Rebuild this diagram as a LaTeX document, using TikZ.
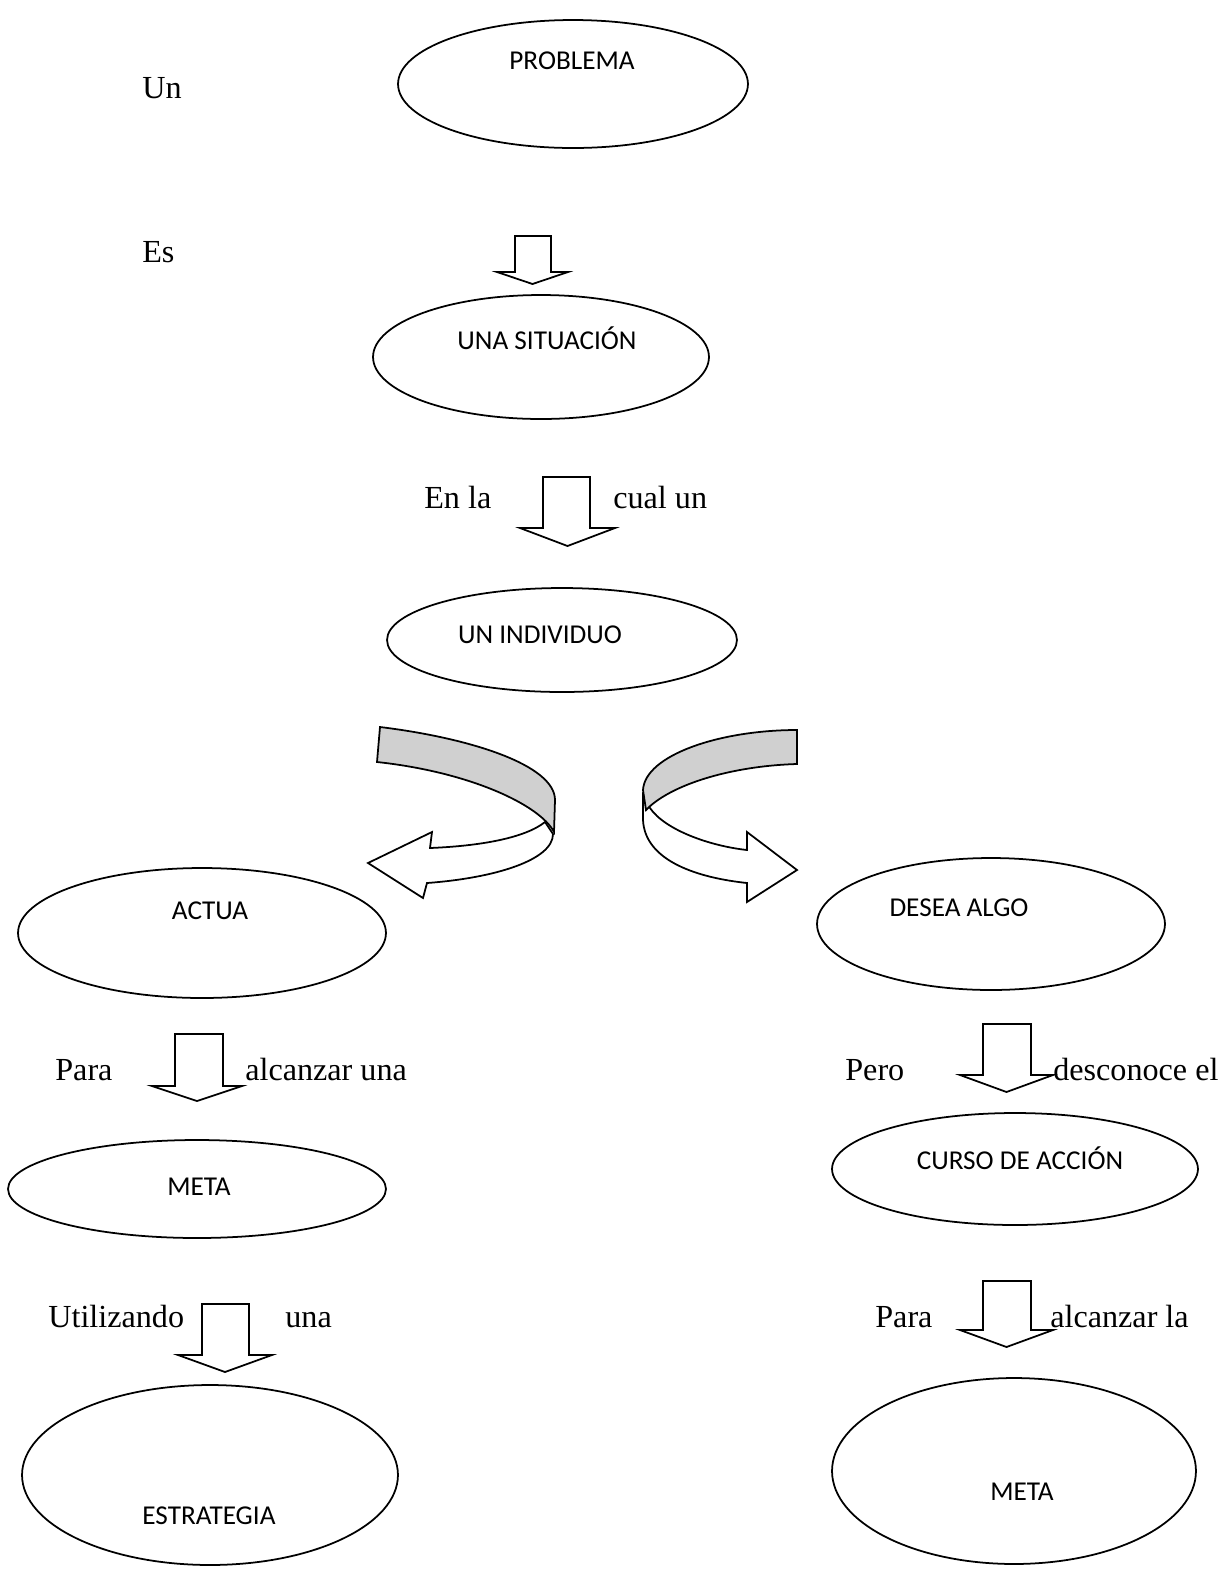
\documentclass[tikz,border=0pt]{standalone}
\usepackage{fontspec}
\setmainfont{Liberation Serif}
\newfontfamily\ovalfont{Carlito}
\usetikzlibrary{shapes.geometric}
\tikzset{
  oval/.style    ={draw, ellipse, line width=1pt, inner sep=0pt},
  ovaltext/.style={anchor=base, inner sep=0pt, font=\ovalfont\fontsize{15.5}{18}\selectfont},
  lbl/.style     ={anchor=base west, inner sep=0pt, font=\fontsize{18.3}{22}\selectfont},
  blockarr/.style={draw, line width=1pt, line join=miter, fill=white},
  ribbon/.style  ={draw, line width=1pt, line join=miter},
}
\definecolor{band}{RGB}{208,208,208}
% shaft left, shaft right, top, head y, head left, head right, tip y
\newcommand{\blockarrow}[7]{%
  \draw[blockarr] (#1,#3) -- (#2,#3) -- (#2,#4) -- (#6,#4)
    -- ({(#5+#6)/2},#7) -- (#5,#4) -- (#1,#4) -- cycle;}
\begin{document}
\begin{tikzpicture}[x=0.02cm, y=-0.02cm]
  \useasboundingbox (0,0) rectangle (1225,1570);

  % ovals
  \node[oval, minimum width=7cm,    minimum height=2.56cm] (problema)   at (573,84)   {};
  \node[oval, minimum width=6.72cm, minimum height=2.48cm] (situacion)  at (541,357)  {};
  \node[oval, minimum width=7cm,    minimum height=2.08cm] (individuo)  at (562,640)  {};
  \node[oval, minimum width=7.36cm, minimum height=2.6cm]  (actua)      at (202,933)  {};
  \node[oval, minimum width=6.96cm, minimum height=2.64cm] (desea)      at (991,924)  {};
  \node[oval, minimum width=7.56cm, minimum height=1.96cm] (metaA)      at (197,1189) {};
  \node[oval, minimum width=7.32cm, minimum height=2.24cm] (curso)      at (1015,1169) {};
  \node[oval, minimum width=7.52cm, minimum height=3.6cm]  (estrategia) at (210,1475) {};
  \node[oval, minimum width=7.28cm, minimum height=3.72cm] (metaB)      at (1014,1471) {};

  % oval texts
  \node[ovaltext] (problemaT)   at (572,69)   {PROBLEMA};
  \node[ovaltext] (situacionT)  at (547,349)  {UNA SITUACIÓN};
  \node[ovaltext] (individuoT)  at (540,643)  {UN INDIVIDUO};
  \node[ovaltext] (actuaT)      at (210,919)  {ACTUA};
  \node[ovaltext] (deseaT)      at (959,916)  {DESEA ALGO};
  \node[ovaltext] (metaAT)      at (199,1195) {META};
  \node[ovaltext] (cursoT)      at (1020,1169) {CURSO DE ACCIÓN};
  \node[ovaltext] (estrategiaT) at (209,1524) {ESTRATEGIA};
  \node[ovaltext] (metaBT)      at (1022,1500) {META};

  % side labels
  \node[lbl] (un)      at (142,98)   {Un};
  \node[lbl] (es)      at (142,262)  {Es};
  \node[lbl] (enla)    at (424,508)  {En la};
  \node[lbl] (cualun)  at (613,508)  {cual un};
  \node[lbl] (paraA)   at (55,1080)  {Para};
  \node[lbl] (alcA)    at (245,1080) {alcanzar una};
  \node[lbl] (pero)    at (845,1080) {Pero};
  \node[lbl] (desc)    at (1053,1080) {desconoce el};
  \node[lbl] (util)    at (48,1327)  {Utilizando};
  \node[lbl] (una)     at (285,1327) {una};
  \node[lbl] (paraB)   at (875,1327) {Para};
  \node[lbl] (alcB)    at (1050,1327) {alcanzar la};

  % block arrows
  \blockarrow{515}{551}{236}{272}{497}{568}{284}
  \blockarrow{543}{590}{477}{528}{520}{615}{546}
  \blockarrow{175}{223}{1034}{1086}{152}{242}{1101}
  \blockarrow{983}{1031}{1024}{1075}{960}{1053}{1092}
  \blockarrow{202}{249}{1304}{1355}{178}{272}{1372}
  \blockarrow{983}{1031}{1281}{1330}{960}{1053}{1347}

  % curved ribbon arrow, left
  \filldraw[ribbon, fill=white] (545,822) .. controls (525,838) and (480,846) .. (430,848)
    -- (432,832) -- (368,863) -- (423,898) -- (427,883)
    .. controls (495,878) and (553,860) .. (553,834) -- cycle;
  \filldraw[ribbon, fill=band] (380,727) .. controls (470,738) and (555,765) .. (555,800)
    -- (554,832) .. controls (540,805) and (470,772) .. (377,762) -- cycle;

  % curved ribbon arrow, right
  \filldraw[ribbon, fill=white] (650,808) .. controls (665,830) and (710,846) .. (747,850)
    -- (747,832) -- (797,870) -- (747,902) -- (747,883)
    .. controls (700,878) and (645,862) .. (643,820) -- (643,795) -- cycle;
  \filldraw[ribbon, fill=band] (797,730) .. controls (720,730) and (645,755) .. (643,790)
    -- (646,810) .. controls (670,785) and (730,766) .. (797,764) -- cycle;
\end{tikzpicture}
\end{document}
